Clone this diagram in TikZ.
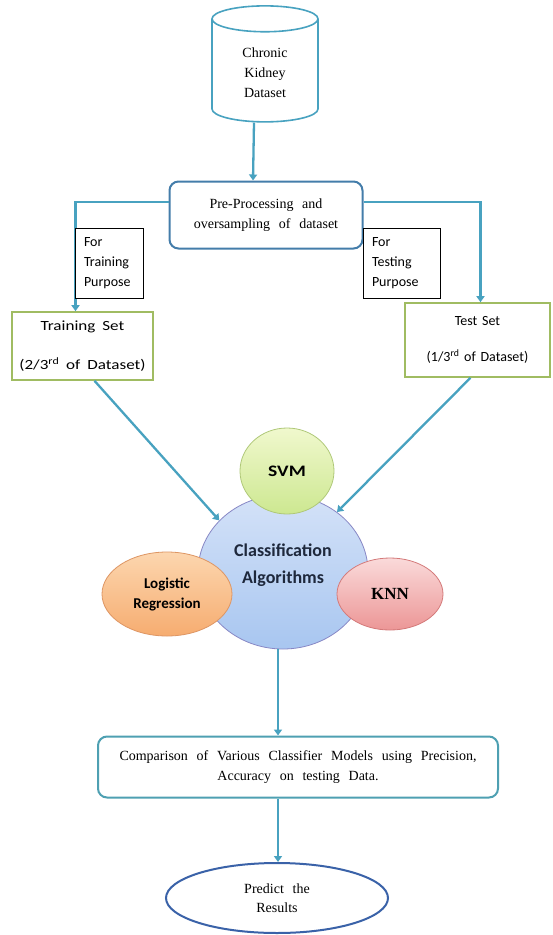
\documentclass[tikz,border=0pt]{standalone}
\usepackage{fontspec}
\setmainfont[WordSpace=2.5]{Liberation Serif}
\newfontfamily\calfont[WordSpace=1.5]{Carlito}
\newfontfamily\calwide[FakeStretch=1.22,WordSpace=1.8]{Carlito}
\usetikzlibrary{shapes.geometric,arrows.meta}
\definecolor{flowblue}{RGB}{72,162,192}
\definecolor{boxblue}{RGB}{68,125,170}
\definecolor{compteal}{RGB}{78,160,178}
\definecolor{predblue}{RGB}{58,98,168}
\definecolor{setgreen}{RGB}{160,188,98}
\begin{document}
\begin{tikzpicture}[x=1pt,y=-1pt,
  flow/.style={line width=2.3pt,flowblue,-{Triangle[width=8pt,length=6pt]}},
  serif/.style={font=\fontsize{14}{20}\selectfont,align=center},
  setbox/.style={draw=setgreen,line width=1.6pt,fill=white,align=center,
    font=\calfont\fontsize{14}{17}\selectfont},
  note/.style={draw,line width=1pt,fill=white,align=left,inner xsep=9pt,inner ysep=0pt,
    minimum height=70pt,font=\calfont\fontsize{14}{20}\selectfont},
  algo/.style={ellipse,inner sep=0pt,line width=0.8pt,align=center}]
\useasboundingbox[fill=white] (0,0) rectangle (552,935);
%%% data source and preprocessing
\node[cylinder,shape border rotate=90,aspect=0.5,draw=flowblue,line width=1.6pt,
  minimum width=106pt,minimum height=116pt,serif] (ckd) at (265,73)
  {Chronic\\Kidney\\Dataset};
\node[draw=boxblue,line width=2pt,rounded corners=9pt,minimum width=193pt,
  minimum height=67pt,serif] (prep) at (266,215) {Pre-Processing and\\oversampling of dataset};
%%% train / test split
\node[setbox,minimum width=141pt,minimum height=68pt,font=\calwide\fontsize{14}{17}\selectfont]
  (train) at (82.5,346) {Training Set\\[22pt](2/3\textsuperscript{rd} of Dataset)};
\node[setbox,minimum width=145pt,minimum height=74pt] (test) at (477.5,340)
  {Test Set\\[19pt](1/3\textsuperscript{rd} of Dataset)};
\draw[flow] ([xshift=-11pt]ckd.south) -- ([xshift=-13pt]prep.north);
\draw[flow] ([yshift=13pt]prep.west) -| ([xshift=-7pt]train.north);
\draw[flow] ([yshift=13pt]prep.east) -| ([xshift=3pt]test.north);
\node[note,text width=50pt] (ntrain) at (109,263) {For\\Training\\Purpose};
\node[note,text width=59pt] (ntest) at (401.5,263) {For\\Testing\\Purpose};
%%% classifiers
\node[algo,draw=blue!35!gray!70,top color={rgb,255:red,212;green,226;blue,248},
  bottom color={rgb,255:red,168;green,198;blue,240},minimum width=170pt,minimum height=154pt,
  font=\calfont\bfseries\fontsize{18}{27}\selectfont,text={rgb,255:red,30;green,40;blue,60}]
  (clf) at (283,572) {Classification\\Algorithms\rule[-16pt]{0pt}{16pt}};
\node[algo,draw={rgb,255:red,175;green,200;blue,120},top color={rgb,255:red,240;green,248;blue,205},
  bottom color={rgb,255:red,205;green,232;blue,145},minimum width=94pt,minimum height=86pt,
  font=\calwide\bfseries\fontsize{16}{20}\selectfont] (svm) at (287,471) {SVM};
\node[algo,draw={rgb,255:red,222;green,150;blue,100},top color={rgb,255:red,252;green,214;blue,175},
  bottom color={rgb,255:red,246;green,172;blue,112},minimum width=130pt,minimum height=84pt,
  font=\calfont\bfseries\fontsize{15}{20}\selectfont] (logreg) at (167,594) {Logistic\\Regression};
\node[algo,draw={rgb,255:red,212;green,122;blue,122},top color={rgb,255:red,250;green,218;blue,218},
  bottom color={rgb,255:red,236;green,150;blue,150},minimum width=106pt,minimum height=72pt,
  font=\bfseries\fontsize{17}{18}\selectfont] (knn) at (390,594) {KNN};
\draw[flow] ([xshift=12pt]train.south) -- (clf.141);
\draw[flow] ([xshift=-7pt]test.south) -- (clf.48);
%%% evaluation
\node[draw=compteal,line width=2pt,rounded corners=9pt,minimum width=400pt,
  minimum height=61pt,serif] (comp) at (298,767)
  {Comparison of Various Classifier Models using Precision,\\Accuracy on testing Data.};
\node[ellipse,draw=predblue,line width=2pt,minimum width=222pt,minimum height=70pt,
  inner sep=0pt,font=\fontsize{14}{19}\selectfont,align=center]
  (pred) at (277,898) {Predict the\\Results};
\draw[flow] ([xshift=-5pt]clf.south) -- ([xshift=-20pt]comp.north);
\draw[flow] ([xshift=-20pt]comp.south) -- ([xshift=1pt]pred.north);
\end{tikzpicture}
\end{document}
